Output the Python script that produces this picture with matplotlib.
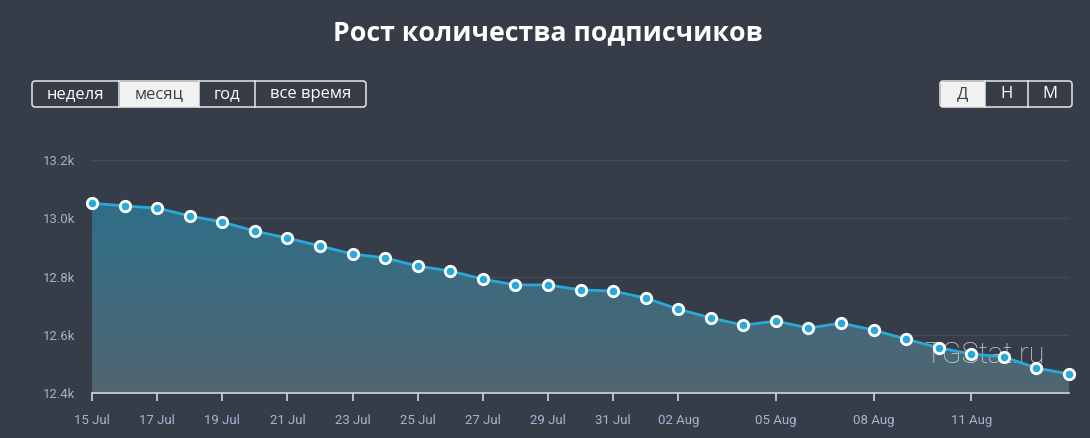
import matplotlib.pyplot as plt
import numpy as np
from matplotlib.patches import FancyBboxPatch, Rectangle
from matplotlib.colors import LinearSegmentedColormap

# data
dates = ["15 Jul", "16 Jul", "17 Jul", "18 Jul", "19 Jul", "20 Jul", "21 Jul", "22 Jul",
         "23 Jul", "24 Jul", "25 Jul", "26 Jul", "27 Jul", "28 Jul", "29 Jul", "30 Jul",
         "31 Jul", "01 Aug", "02 Aug", "03 Aug", "04 Aug", "05 Aug", "06 Aug", "07 Aug",
         "08 Aug", "09 Aug", "10 Aug", "11 Aug", "12 Aug", "13 Aug", "14 Aug"]
subscribers = [13052, 13042, 13035, 13008, 12987, 12956, 12932, 12905,
               12877, 12864, 12836, 12819, 12791, 12771, 12771, 12754,
               12750, 12726, 12688, 12658, 12633, 12647, 12623, 12640,
               12616, 12585, 12555, 12534, 12524, 12486, 12465]
tick_labels = ["15 Jul", "17 Jul", "19 Jul", "21 Jul", "23 Jul", "25 Jul", "27 Jul",
               "29 Jul", "31 Jul", "02 Aug", "05 Aug", "08 Aug", "11 Aug"]
y_ticks = [12400, 12600, 12800, 13000, 13200]
y_tick_labels = ["12.4k", "12.6k", "12.8k", "13.0k", "13.2k"]
period_buttons = ["неделя", "месяц", "год", "все время"]
scale_buttons = ["Д", "Н", "М"]

bg = "#363d49"
line_c = "#29a9d8"
W, H = 1090, 438

fig = plt.figure(figsize=(W / 100, H / 100), dpi=100, facecolor=bg)
ax = fig.add_axes([92 / W, 45 / H, (1069 - 92) / W, (393 - 160) / H])
ax.set_facecolor(bg)

x = np.arange(len(dates))
y = np.array(subscribers)
ax.set_xlim(0, len(dates) - 1)
ax.set_ylim(12400, 13200)

# gradient fill under the line
grad = LinearSegmentedColormap.from_list("g", ["#2e6f89", "#516671"])
img = ax.imshow(np.linspace(0, 1, 256).reshape(-1, 1), cmap=grad, aspect="auto",
                extent=[0, len(dates) - 1, 12400, 13060], origin="upper", zorder=1)
poly = ax.fill_between(x, y, 12400, color="none", lw=0)
clip = poly.get_paths()[0]
img.set_clip_path(clip, transform=ax.transData)

ax.plot(x, y, color=line_c, lw=2.0, zorder=3, marker="o", markersize=7.5,
        markerfacecolor=line_c, markeredgecolor="white", markeredgewidth=2.0,
        clip_on=False)

for v in y_ticks[1:]:
    ax.axhline(v, color="#454c58", lw=1, zorder=0.5)

for s in ["top", "right", "left"]:
    ax.spines[s].set_visible(False)
ax.spines["bottom"].set_color("#d0d4da")
ax.spines["bottom"].set_linewidth(1.2)

ax.set_yticks(y_ticks)
ax.set_yticklabels(y_tick_labels)
ax.tick_params(axis="y", length=0, pad=12, labelsize=9.5, labelcolor="#a7b0bf")
ax.set_xticks([dates.index(t) for t in tick_labels])
ax.set_xticklabels(tick_labels)
ax.tick_params(axis="x", length=6, width=1.2, color="#d0d4da", pad=9,
               labelsize=9.5, labelcolor="#a2b6d2")
for lab in ax.get_xticklabels() + ax.get_yticklabels():
    lab.set_fontfamily("Roboto")

# overlay for title and buttons (pixel coordinates)
ov = fig.add_axes([0, 0, 1, 1], facecolor="none")
ov.set_xlim(0, W)
ov.set_ylim(H, 0)
ov.axis("off")

ax.text((1045 - 92) / (1069 - 92), (393 - 355) / (393 - 160), "TGStat.ru",
        transform=ax.transAxes, ha="right", va="center",
        fontsize=21, color="#d8dadd", alpha=0.92, fontfamily="Roboto",
        fontweight="light", zorder=2.5)

ov.text(W / 2 + 3, 33, "Рост количества подписчиков", ha="center", va="center",
        fontsize=19.2, fontweight="bold", color="white", fontfamily="Open Sans")


def button_group(labels, edges, selected, top, bottom):
    ov.add_patch(FancyBboxPatch((edges[0], top), edges[-1] - edges[0], bottom - top,
                                boxstyle="round,pad=0,rounding_size=3", fc="none",
                                ec="#e8e8e8", lw=1.1, zorder=3))
    for i, lab in enumerate(labels):
        x0, x1 = edges[i], edges[i + 1]
        if i == selected:
            ov.add_patch(Rectangle((x0 + 0.5, top + 0.5), x1 - x0 - 1, bottom - top - 1,
                                   fc="#f1f1f1", ec="none", zorder=2))
        if 0 < i:
            ov.plot([x0, x0], [top, bottom], color="#e8e8e8", lw=1.1, zorder=3)
        ov.text((x0 + x1) / 2, (top + bottom) / 2 + 0.5, lab, ha="center", va="center",
                fontsize=12, fontfamily="Open Sans",
                color="#3a414c" if i == selected else "white", zorder=4)


button_group(period_buttons, [32, 119, 199, 255, 366], 1, 81, 107)
button_group(scale_buttons, [940, 985, 1028, 1072], 0, 81, 107)

fig.savefig("out.png", dpi=100, facecolor=bg)
